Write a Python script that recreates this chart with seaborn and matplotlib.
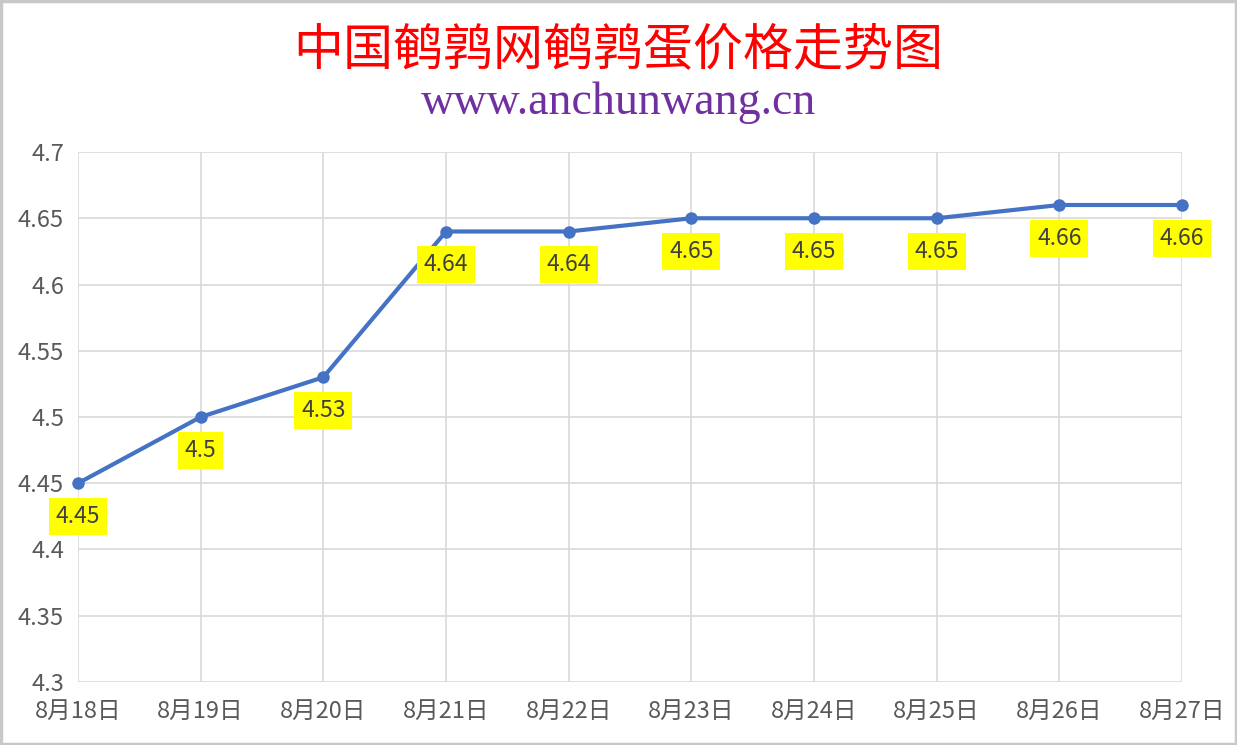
import pandas as pd
import numpy as np
import matplotlib.pyplot as plt
import seaborn as sns
from matplotlib.patches import Rectangle

# ===== 데이터 =====
dates = ['8月18日', '8月19日', '8月20日', '8月21日', '8月22日',
         '8月23日', '8月24日', '8月25日', '8月26日', '8月27日']
prices = [4.45, 4.5, 4.53, 4.64, 4.64, 4.65, 4.65, 4.65, 4.66, 4.66]
price_labels = ['4.45', '4.5', '4.53', '4.64', '4.64', '4.65', '4.65', '4.65', '4.66', '4.66']
y_ticks = [4.3, 4.35, 4.4, 4.45, 4.5, 4.55, 4.6, 4.65, 4.7]
y_tick_labels = ['4.3', '4.35', '4.4', '4.45', '4.5', '4.55', '4.6', '4.65', '4.7']

df = pd.DataFrame({'date': dates, 'price': prices})

sns.set_style('white')
plt.rcParams['font.family'] = ['Noto Sans CJK SC', 'DejaVu Sans']

fig = plt.figure(figsize=(12.37, 7.45), dpi=100)
ax = fig.add_axes([78 / 1237, 63 / 745, 1104 / 1237, 530 / 745])

sns.lineplot(data=df, x='date', y='price', ax=ax, color='#4472C4',
             linewidth=3, marker='o', markersize=9, markeredgewidth=0,
             sort=False, clip_on=False, zorder=3)

# 데이터 라벨 (노란 배경)
for i, (v, lab) in enumerate(zip(prices, price_labels)):
    ax.annotate(lab, (i, v), xytext=(0, -24), textcoords='offset points',
                ha='center', va='center', fontsize=16.5, color='#404040',
                bbox=dict(boxstyle='square,pad=0.3', fc='#FFFF00', ec='none'),
                zorder=4)

ax.set_xlim(0, len(dates) - 1)
ax.set_ylim(4.3, 4.7)
ax.set_yticks(y_ticks)
ax.set_yticklabels(y_tick_labels)
ax.set_xticks(range(len(dates)))
ax.set_xticklabels(dates)
ax.tick_params(axis='both', length=0, labelsize=17, labelcolor='#595959')
ax.tick_params(axis='y', pad=10)
ax.tick_params(axis='x', pad=13)
ax.grid(True, color='#D9D9D9', linewidth=1.2)
ax.set_axisbelow(True)
for s in ax.spines.values():
    s.set_visible(False)
ax.set_xlabel('')
ax.set_ylabel('')

fig.text(0.5, 1 - 50 / 745, '中国鹌鹑网鹌鹑蛋价格走势图', ha='center', va='center',
         fontsize=36, color='#FF0000')
fig.text(0.5, 1 - 103 / 745, 'www.anchunwang.cn', ha='center', va='center',
         fontsize=33, color='#7030A0', family=['Liberation Serif', 'DejaVu Serif'])

fig.patches.append(Rectangle((0.001, 0.001), 0.998, 0.997, transform=fig.transFigure,
                             fill=False, ec='#C8C8C8', lw=2.5))

fig.savefig('out.png', dpi=100)
